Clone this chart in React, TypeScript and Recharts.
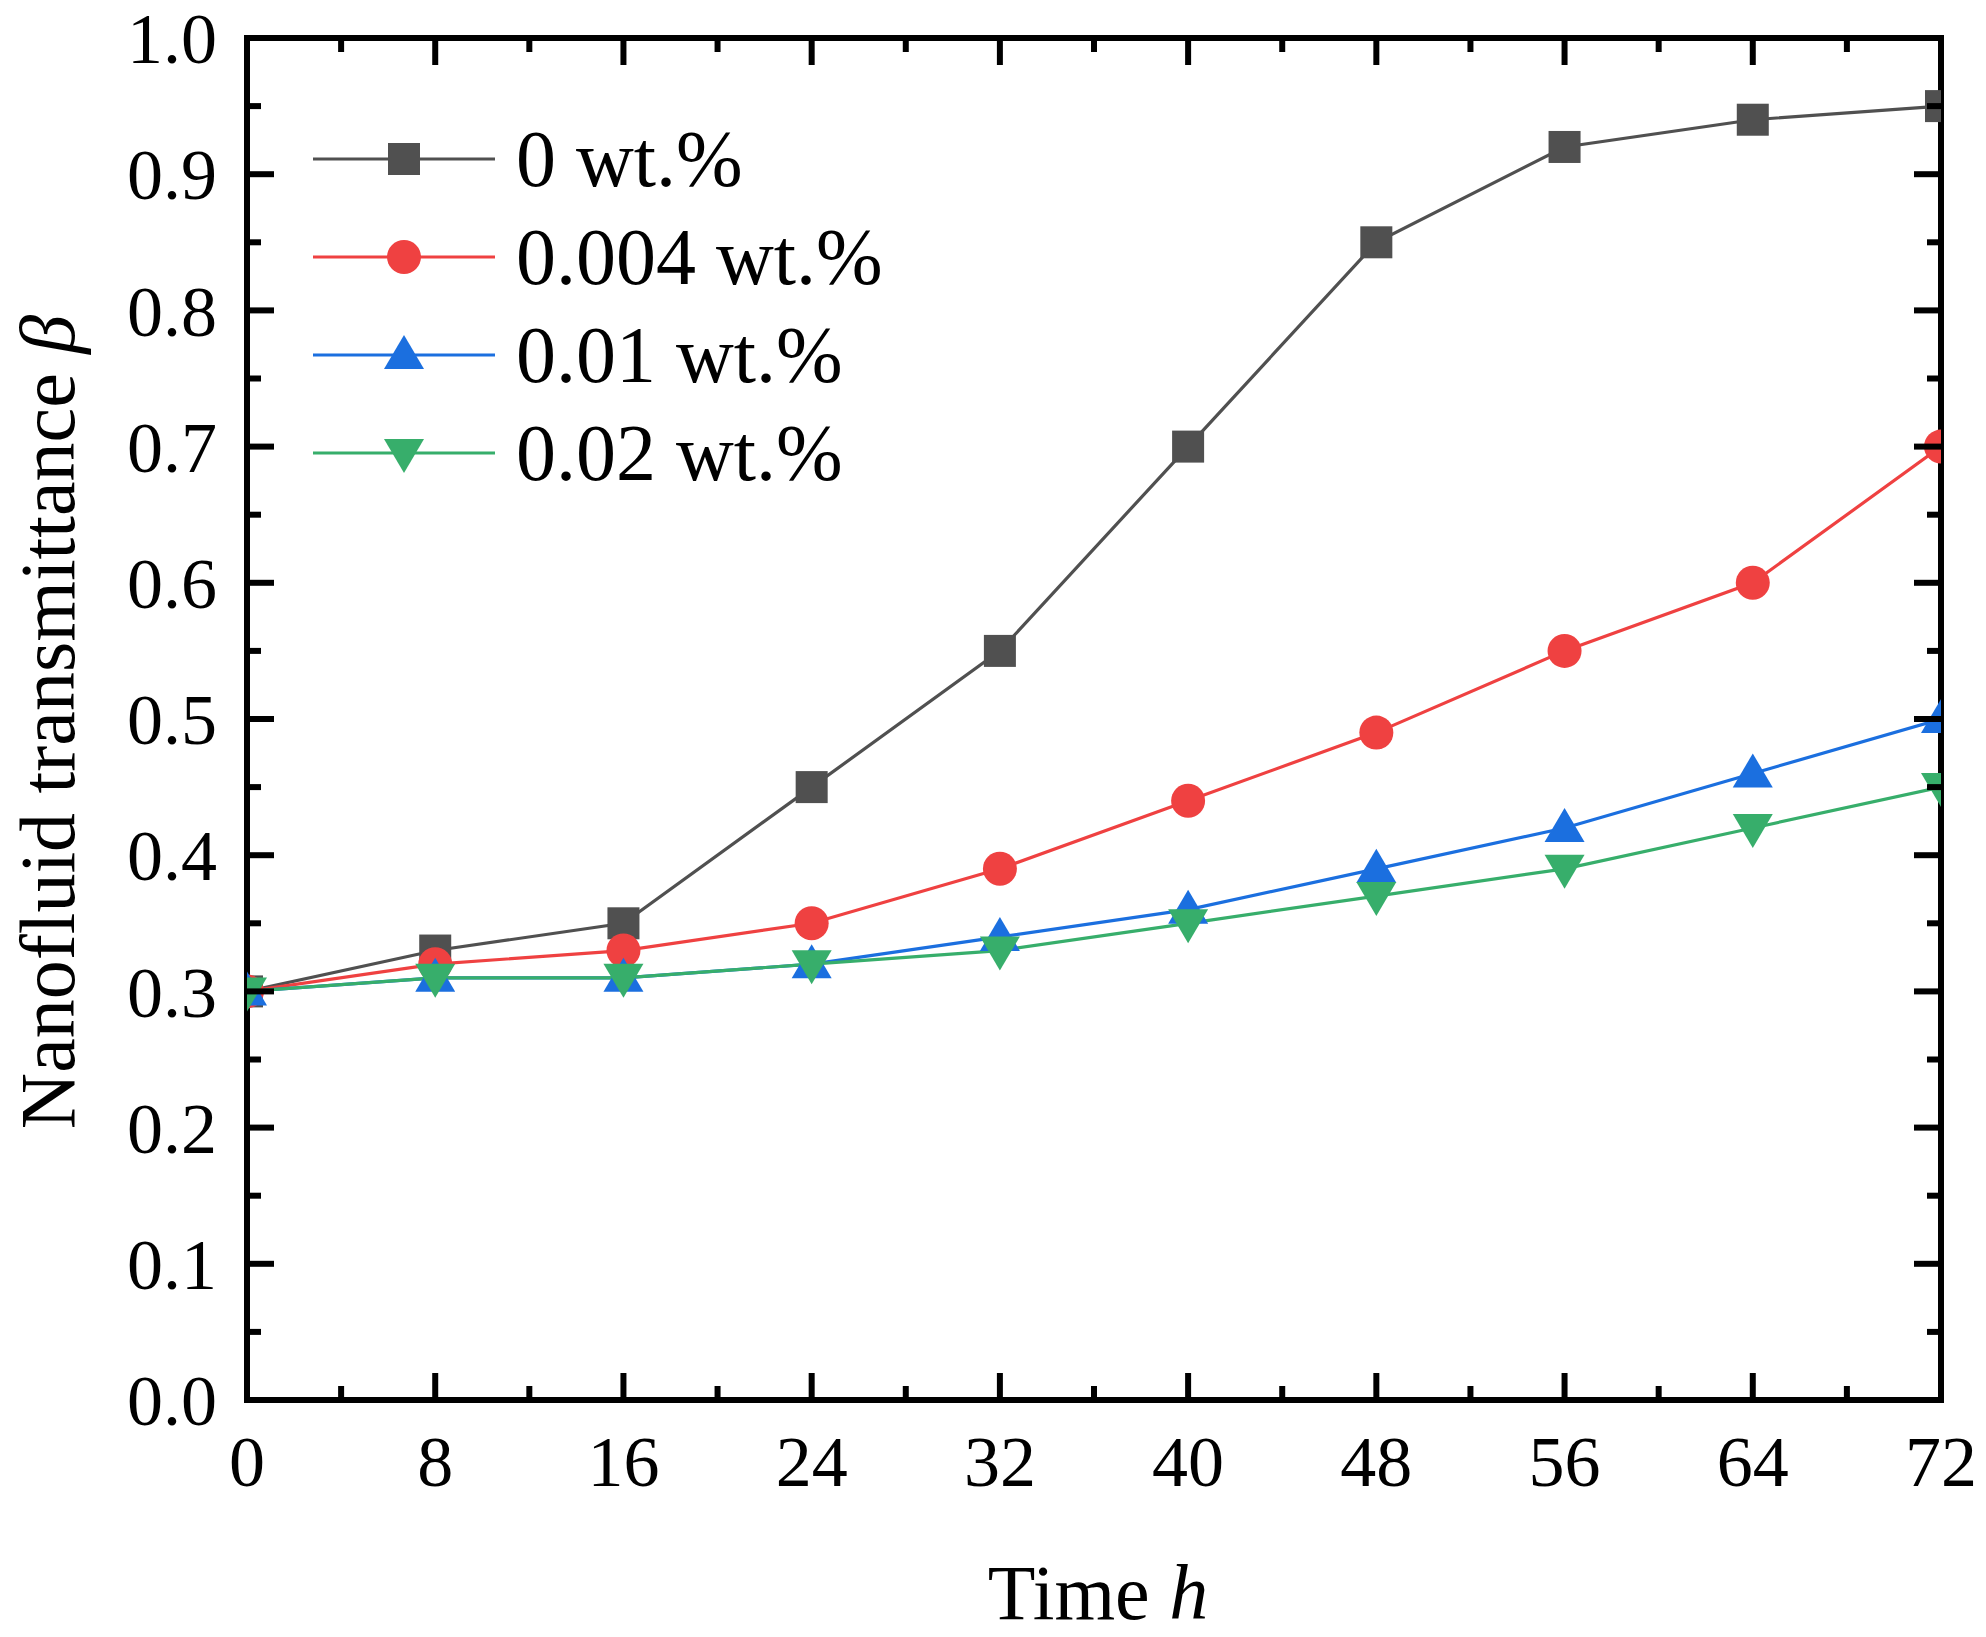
import { LineChart, Line, XAxis, YAxis, ReferenceArea, Legend } from "recharts";

// Time in hours
const HOURS = [0, 8, 16, 24, 32, 40, 48, 56, 64, 72];

// Transmittance per concentration
const WT_0 = [0.3, 0.33, 0.35, 0.45, 0.55, 0.7, 0.85, 0.92, 0.94, 0.95];
const WT_0004 = [0.3, 0.32, 0.33, 0.35, 0.39, 0.44, 0.49, 0.55, 0.6, 0.7];
const WT_001 = [0.3, 0.31, 0.31, 0.32, 0.34, 0.36, 0.39, 0.42, 0.46, 0.5];
const WT_002 = [0.3, 0.31, 0.31, 0.32, 0.33, 0.35, 0.37, 0.39, 0.42, 0.45];

const X_TICKS = [0, 4, 8, 12, 16, 20, 24, 28, 32, 36, 40, 44, 48, 52, 56, 60, 64, 68, 72];
const Y_TICKS = [0, 0.05, 0.1, 0.15, 0.2, 0.25, 0.3, 0.35, 0.4, 0.45, 0.5, 0.55, 0.6, 0.65, 0.7, 0.75, 0.8, 0.85, 0.9, 0.95, 1.0];

const SERIES = [
  { key: "w0", name: "0 wt.%", color: "#505050", shape: "square", values: WT_0 },
  { key: "w0004", name: "0.004 wt.%", color: "#ef4141", shape: "circle", values: WT_0004 },
  { key: "w001", name: "0.01 wt.%", color: "#1b6fdf", shape: "up", values: WT_001 },
  { key: "w002", name: "0.02 wt.%", color: "#37ae6b", shape: "down", values: WT_002 },
];

const data = HOURS.map((t, i) => {
  const row: Record<string, number> = { t };
  for (const s of SERIES) row[s.key] = s.values[i];
  return row;
});

const W = 1986;
const H = 1637;
const MARGIN = { top: 38, right: 45, left: 0, bottom: 0 };
const Y_AXIS_W = 247;
const X_AXIS_H = 237;
const PLOT_W = W - MARGIN.left - MARGIN.right - Y_AXIS_W;
const PLOT_H = H - MARGIN.top - MARGIN.bottom - X_AXIS_H;

const FONT = "'Liberation Serif', 'Times New Roman', serif";
const Y_TICK_GAP = 30;
const MAJOR_LEN = 27;
const MINOR_LEN = 14;

function Marker({ cx, cy, color, shape }: { cx: number; cy: number; color: string; shape: string }) {
  if (shape === "square") return <rect x={cx - 16} y={cy - 16} width={32} height={32} fill={color} />;
  if (shape === "circle") return <circle cx={cx} cy={cy} r={17} fill={color} />;
  if (shape === "up")
    return <polygon points={`${cx},${cy - 20} ${cx - 20},${cy + 14} ${cx + 20},${cy + 14}`} fill={color} />;
  return <polygon points={`${cx - 20},${cy - 14} ${cx + 20},${cy - 14} ${cx},${cy + 20}`} fill={color} />;
}

function makeDot(color: string, shape: string) {
  return (props: any) => {
    const { cx, cy, index } = props;
    if (cx == null || cy == null) return <g key={index} />;
    return <Marker key={index} cx={cx} cy={cy} color={color} shape={shape} />;
  };
}

// left labels + inward ticks on both left and right frame sides
function YTick(props: any) {
  const { x, y, payload } = props;
  const v = payload.value as number;
  const major = Math.round(v * 100) % 10 === 0;
  const ax = x + Y_TICK_GAP;
  const len = major ? MAJOR_LEN : MINOR_LEN;
  return (
    <g>
      <line x1={ax} x2={ax + len} y1={y} y2={y} stroke="#000" strokeWidth={6} />
      <line x1={ax + PLOT_W - len} x2={ax + PLOT_W} y1={y} y2={y} stroke="#000" strokeWidth={6} />
      {major && (
        <text x={x} y={y} dy="0.35em" textAnchor="end" fontFamily={FONT} fontSize={72} fill="#000">
          {v.toFixed(1)}
        </text>
      )}
    </g>
  );
}

// bottom labels + inward ticks on both bottom and top frame sides
function XTick(props: any) {
  const { x, y, payload } = props;
  const v = payload.value as number;
  const major = v % 8 === 0;
  const len = major ? MAJOR_LEN : MINOR_LEN;
  return (
    <g>
      <line x1={x} x2={x} y1={y} y2={y - len} stroke="#000" strokeWidth={6} />
      <line x1={x} x2={x} y1={y - PLOT_H} y2={y - PLOT_H + len} stroke="#000" strokeWidth={6} />
      {major && (
        <text x={x} y={y + 86} textAnchor="middle" fontFamily={FONT} fontSize={72} fill="#000">
          {v}
        </text>
      )}
    </g>
  );
}

function YTitle(props: any) {
  const vb = props.viewBox || { x: 0, y: MARGIN.top, height: PLOT_H };
  const cx = vb.x + 47;
  const cy = vb.y + vb.height / 2 + 3;
  return (
    <text
      x={cx}
      y={cy}
      transform={`rotate(-90 ${cx} ${cy})`}
      textAnchor="middle"
      dominantBaseline="central"
      fontFamily={FONT}
      fontSize={78}
      fill="#000"
    >
      Nanofluid transmittance <tspan fontStyle="italic">β</tspan>
    </text>
  );
}

function XTitle(props: any) {
  const vb = props.viewBox || { x: Y_AXIS_W, y: MARGIN.top + PLOT_H, width: PLOT_W };
  const cx = vb.x + vb.width / 2 + 4;
  return (
    <text x={cx} y={MARGIN.top + PLOT_H + 219} textAnchor="middle" fontFamily={FONT} fontSize={78} fill="#000">
      Time <tspan fontStyle="italic">h</tspan>
    </text>
  );
}

function LegendBox() {
  return (
    <div style={{ fontFamily: FONT }}>
      {SERIES.map((s) => (
        <div key={s.key} style={{ display: "flex", alignItems: "center", height: 98 }}>
          <svg width={182} height={98}>
            <line x1={0} x2={182} y1={49} y2={49} stroke={s.color} strokeWidth={3} />
            <Marker cx={91} cy={49} color={s.color} shape={s.shape} />
          </svg>
          <span style={{ marginLeft: 21, fontSize: 80, lineHeight: "98px", color: "#000", whiteSpace: "nowrap" }}>
            {s.name}
          </span>
        </div>
      ))}
    </div>
  );
}

export default function App() {
  return (
    <div style={{ position: "absolute", left: 0, top: 0, width: W, height: H, background: "#fff" }}>
      <LineChart width={W} height={H} data={data} margin={MARGIN}>
        <XAxis
          dataKey="t"
          type="number"
          domain={[0, 72]}
          ticks={X_TICKS}
          interval={0}
          allowDataOverflow
          axisLine={false}
          tickLine={false}
          tickSize={0}
          tickMargin={0}
          height={X_AXIS_H}
          tick={<XTick />}
          label={<XTitle />}
        />
        <YAxis
          type="number"
          domain={[0, 1]}
          ticks={Y_TICKS}
          interval={0}
          allowDataOverflow
          axisLine={false}
          tickLine={false}
          tickSize={0}
          tickMargin={Y_TICK_GAP}
          width={Y_AXIS_W}
          tick={<YTick />}
          label={<YTitle />}
        />
        <ReferenceArea x1={0} x2={72} y1={0} y2={1} fill="none" stroke="#000" strokeWidth={6} ifOverflow="visible" />
        <Legend
          layout="horizontal"
          verticalAlign="middle"
          align="center"
          wrapperStyle={{ left: 313, top: 110, width: "auto", height: "auto" }}
          content={<LegendBox />}
        />
        {SERIES.map((s) => (
          <Line
            key={s.key}
            dataKey={s.key}
            name={s.name}
            type="linear"
            stroke={s.color}
            strokeWidth={3.2}
            dot={makeDot(s.color, s.shape)}
            activeDot={false}
            isAnimationActive={false}
          />
        ))}
      </LineChart>
    </div>
  );
}
